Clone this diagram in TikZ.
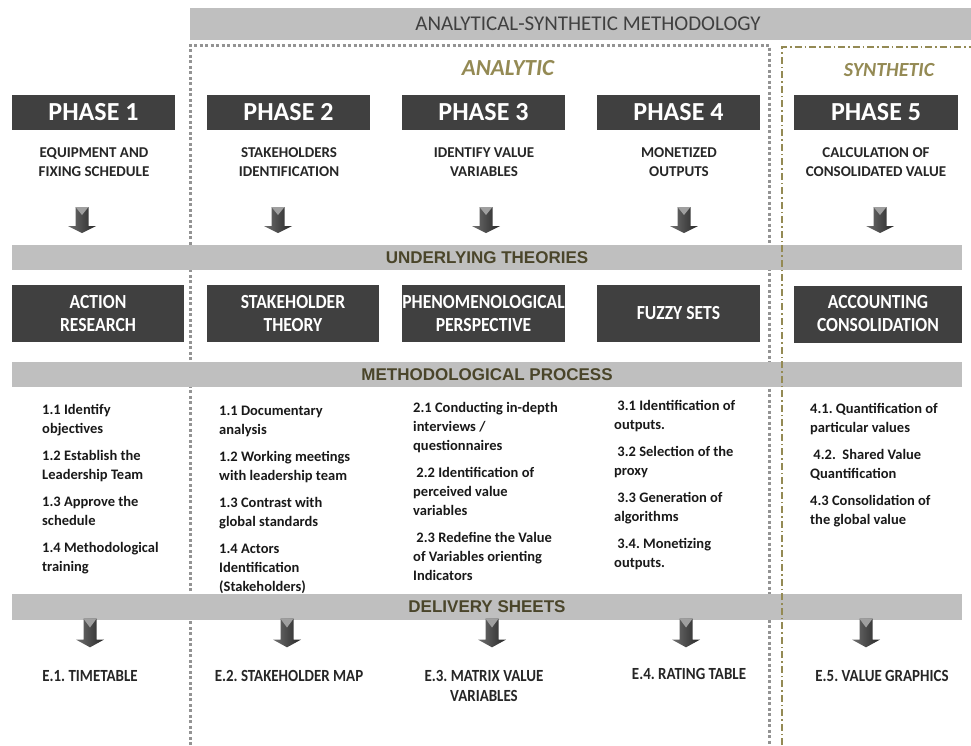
\documentclass[tikz,border=0pt]{standalone}
\usepackage{fontspec}
\setmainfont{Carlito}
\newfontfamily\condfont[FakeStretch=0.88]{Carlito}
\newfontfamily\barfont{Liberation Sans}
\definecolor{boxgray}{HTML}{404040}
\definecolor{bargray}{HTML}{BFBFBF}
\definecolor{lineolive}{HTML}{948A54}
\definecolor{bartext}{HTML}{4A452A}
\frenchspacing
\begin{document}
\begin{tikzpicture}[x=1pt,y=-1pt]
    \tikzstyle{phase}=[fill=boxgray,text=white,minimum width=163pt,minimum height=35pt,inner sep=0pt,font=\bfseries\fontsize{26}{28}\selectfont]
    \tikzstyle{sub}=[align=center,text=black!85,font=\bfseries\fontsize{15}{19}\selectfont]
    \tikzstyle{theory}=[fill=boxgray,text=white,align=center,minimum height=57pt,inner sep=0pt,font=\condfont\bfseries\fontsize{20}{23}\selectfont]
    \tikzstyle{bar}=[fill=bargray,minimum width=950pt,minimum height=25pt,inner sep=0pt,text=bartext,font=\barfont\bfseries\fontsize{17}{18}\selectfont]
    \tikzstyle{steps}=[anchor=north west,align=left,inner sep=0pt,text=black!90,font=\bfseries\fontsize{14.5}{19}\selectfont]
    \tikzstyle{sheet}=[align=center,text=black!85,font=\condfont\bfseries\fontsize{17}{20}\selectfont]
    \tikzstyle{title}=[text=lineolive,font=\bfseries\itshape\fontsize{23}{25}\selectfont]
    \tikzset{blockarrow/.pic = {
        \shade[left color=boxgray!75,right color=black!85] (-6.5,-13) -- (-6.5,6) -- (-14,6) -- (0,13)
            -- (14,6) -- (6.5,6) -- (6.5,-13) -- cycle;
        \fill[gray!75] (-6.5,-13) -- (6.5,-13) -- (0,-5) -- cycle;}}
    \tikzset{grayline/.style = {gray!85,line width=3pt,dash pattern=on 3pt off 2.5pt}}
    \tikzset{oliveline/.style = {lineolive,line width=1.5pt,dash pattern=on 7pt off 3pt on 1.5pt off 3pt}}
    \useasboundingbox (0,0) rectangle (971,745);
    % frames of the two parts
    \coordinate (ana1) at (190,745);
    \coordinate (ana2) at (190,45);
    \coordinate (ana3) at (769,45);
    \coordinate (ana4) at (769,745);
    \coordinate (syn1) at (782,745);
    \coordinate (syn2) at (782,47);
    \coordinate (syn3) at (971,47);
    \draw[grayline] (ana1) -- (ana2) -- (ana3) -- (ana4);
    \node[fill=bargray,minimum width=781pt,minimum height=32pt,inner sep=0pt,text=boxgray,
        font=\fontsize{21}{23}\selectfont] (top) at (580.5,24) {\hspace*{15pt}ANALYTICAL-SYNTHETIC METHODOLOGY};
    \node[title] (ana) at (508,68) {ANALYTIC};
    \node[title,font=\bfseries\itshape\fontsize{20}{22}\selectfont] (syn) at (889,70) {SYNTHETIC};
    % phases
    \node[phase] (p1) at (93.5,112.5) {PHASE 1};
    \node[phase] (p2) at (288.5,112.5) {PHASE 2};
    \node[phase] (p3) at (483.5,112.5) {PHASE 3};
    \node[phase] (p4) at (678.5,112.5) {PHASE 4};
    \node[phase,minimum width=164pt] (p5) at (876,112.5) {PHASE 5};
    \node[sub] (s1) at (94,162) {EQUIPMENT AND\\FIXING SCHEDULE};
    \node[sub] (s2) at (289,162) {STAKEHOLDERS\\IDENTIFICATION};
    \node[sub] (s3) at (484,162) {IDENTIFY VALUE\\VARIABLES};
    \node[sub] (s4) at (679,162) {MONETIZED\\OUTPUTS};
    \node[sub] (s5) at (876,162) {CALCULATION OF\\CONSOLIDATED VALUE};
    \pic (a1) at (82,220) {blockarrow};
    \pic (a2) at (278,220) {blockarrow};
    \pic (a3) at (486,220) {blockarrow};
    \pic (a4) at (684,220) {blockarrow};
    \pic (a5) at (880,220) {blockarrow};
    % theories
    \node[bar] (under) at (487,257.5) {UNDERLYING THEORIES};
    \node[theory,minimum width=172pt] (t1) at (98,313.5) {ACTION\\RESEARCH};
    \node[theory,minimum width=172pt] (t2) at (293,313.5) {STAKEHOLDER\\THEORY};
    \node[theory,minimum width=163pt] (t3) at (483.5,313.5) {PHENOMENOLOGICAL\\PERSPECTIVE};
    \node[theory,minimum width=163pt] (t4) at (678.5,313.5) {FUZZY SETS};
    \node[theory,minimum width=168pt] (t5) at (878,314) {ACCOUNTING\\CONSOLIDATION};
    % process
    \node[bar] (method) at (487,374.5) {METHODOLOGICAL PROCESS};
    \node[steps] (l1) at (42,404) {1.1 Identify\\objectives\\[8pt]1.2 Establish the\\Leadership Team\\[8pt]1.3 Approve the\\schedule\\[8pt]1.4 Methodological\\training};
    \node[steps] (l2) at (219,406) {1.1 Documentary\\analysis\\[8pt]1.2 Working meetings\\with leadership team\\[8pt]1.3 Contrast with\\global standards\\[8pt]1.4 Actors\\Identification\\(Stakeholders)};
    \node[steps] (l3) at (413,402) {2.1 Conducting in-depth\\interviews /\\questionnaires\\[8pt]\ 2.2 Identification of\\perceived value\\variables\\[8pt]\ 2.3 Redefine the Value\\of Variables orienting\\Indicators};
    \node[steps] (l4) at (614,400) {\ 3.1 Identification of\\outputs.\\[8pt]\ 3.2 Selection of the\\proxy\\[8pt]\ 3.3 Generation of\\algorithms\\[8pt]\ 3.4. Monetizing\\outputs.};
    \node[steps] (l5) at (810,403) {4.1. Quantification of\\particular values\\[8pt]\ 4.2.\ \ Shared Value\\Quantification\\[8pt]4.3 Consolidation of\\the global value};
    % deliveries
    \node[bar,minimum height=26pt] (deliv) at (487,607) {DELIVERY SHEETS};
    \pic[yscale=1.1] (b1) at (90,633) {blockarrow};
    \pic[yscale=1.1] (b2) at (287,633) {blockarrow};
    \pic[yscale=1.1] (b3) at (492,633) {blockarrow};
    \pic[yscale=1.1] (b4) at (686,633) {blockarrow};
    \pic[yscale=1.1] (b5) at (866,633) {blockarrow};
    \node[sheet] (e1) at (90,676) {E.1. TIMETABLE};
    \node[sheet] (e2) at (289,676) {E.2. STAKEHOLDER MAP};
    \node[sheet] (e3) at (484,686) {E.3. MATRIX VALUE\\VARIABLES};
    \node[sheet] (e4) at (689,674) {E.4. RATING TABLE};
    \node[sheet] (e5) at (882,676) {E.5. VALUE GRAPHICS};
    \draw[oliveline] (syn1) -- (syn2) -- (syn3);
\end{tikzpicture}
\end{document}
